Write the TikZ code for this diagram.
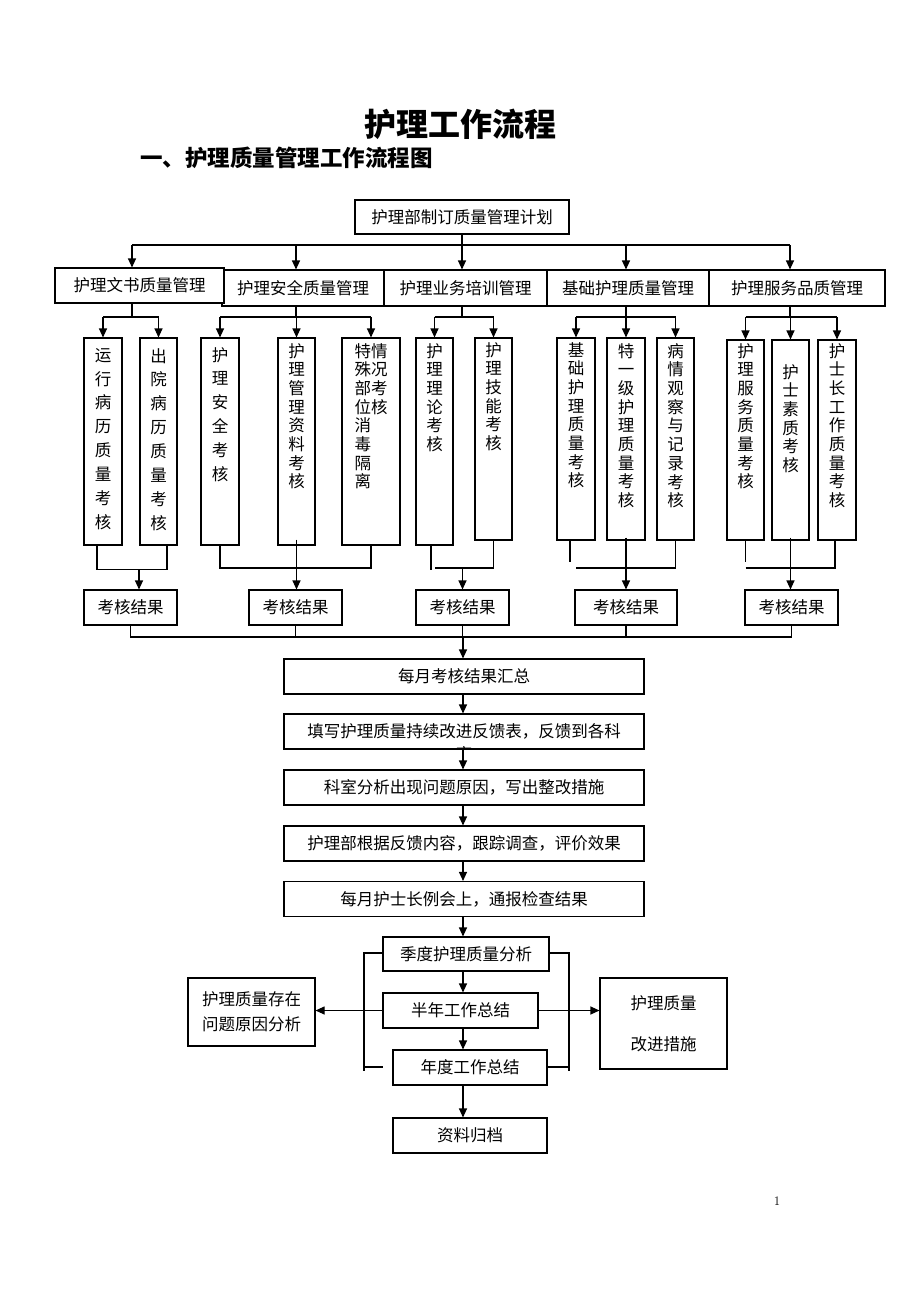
\documentclass[tikz,border=0pt]{standalone}
\usepackage{fontspec}
\newfontfamily\cjk{Noto Sans CJK SC}
\usetikzlibrary{arrows.meta,calc}
\begin{document}
\begin{tikzpicture}[x=1pt,y=-1pt,
  every node/.style={font=\cjk\fontsize{16.5}{18.7}\selectfont, inner sep=0pt},
  box/.style={draw, line width=1.1pt, minimum height=35pt},
  vt/.style={anchor=north, align=center, font=\cjk\fontsize{16.5}{18.7}\selectfont},
  vtw/.style={anchor=north, align=center, font=\cjk\fontsize{16.5}{23.9}\selectfont},
  ln/.style={line width=1.1pt},
  ar/.style={line width=1.1pt,-{Triangle[length=9pt,width=8pt]}}
]
\useasboundingbox (0,0) rectangle (920,1302);

% titles
\node[font=\cjk\bfseries\fontsize{32}{32}\selectfont] (title) at (460,124) {护理工作流程};
\node[anchor=west, font=\cjk\bfseries\fontsize{22.5}{22.5}\selectfont] (sub) at (140,158) {一、护理质量管理工作流程图};

% top box
\node[box, minimum width=214pt, minimum height=34pt] (top) at (462,217) {护理部制订质量管理计划};

% level 2
\node[box, minimum width=162pt, minimum height=36pt] (s2) at (303,288) {护理安全质量管理};
\node[box, minimum width=163pt, minimum height=36pt] (s3) at (465.5,288) {护理业务培训管理};
\node[box, minimum width=162pt, minimum height=36pt] (s4) at (628,288) {基础护理质量管理};
\node[box, minimum width=176pt, minimum height=36pt] (s5) at (797,288) {护理服务品质管理};
\node[box, fill=white, minimum width=169pt, minimum height=35pt] (s1) at (139.5,285.5) {护理文书质量管理};

% top connectors
\coordinate (h1) at (132,245);
\coordinate (h2) at (296,245);
\coordinate (h3) at (462,245);
\coordinate (h4) at (626,245);
\coordinate (h5) at (790,245);
\draw[ln] (h1) -- (h5);
\draw[ar] (top.south) -- (top.south |- s3.north);
\draw[ar] (h1) -- (h1 |- s1.north);
\draw[ar] (h2) -- (h2 |- s2.north);
\draw[ar] (h4) -- (h4 |- s4.north);
\draw[ar] (h5) -- (h5 |- s5.north);

% level 3 boxes
\node[box, minimum width=38pt, minimum height=207pt] (a1) at (103,441.5) {};
\node[box, minimum width=37pt, minimum height=207pt] (a2) at (158.5,441.5) {};
\node[box, minimum width=38pt, minimum height=207pt] (b1) at (220,441.5) {};
\node[box, minimum width=37pt, minimum height=207pt] (b2) at (296.5,441.5) {};
\node[box, minimum width=58pt, minimum height=207pt] (b3) at (371,441.5) {};
\node[box, minimum width=37pt, minimum height=207pt] (c1) at (434.5,441.5) {};
\node[box, minimum width=37pt, minimum height=202pt] (c2) at (493.5,439) {};
\node[box, minimum width=38pt, minimum height=202pt] (d1) at (576,439) {};
\node[box, minimum width=38pt, minimum height=202pt] (d2) at (626,439) {};
\node[box, minimum width=37pt, minimum height=202pt] (d3) at (675.5,439) {};
\node[box, minimum width=37pt, minimum height=200pt] (e1) at (745.5,440) {};
\node[box, minimum width=37pt, minimum height=200pt] (e2) at (790.5,440) {};
\node[box, minimum width=38pt, minimum height=200pt] (e3) at (837,440) {};

% level 3 texts
\node[vtw] (ta1) at (103,348) {运\\行\\病\\历\\质\\量\\考\\核};
\node[vtw] (ta2) at (158.5,348) {出\\院\\病\\历\\质\\量\\考\\核};
\node[vtw] (tb1) at (220,347) {护\\理\\安\\全\\考\\核};
\node[vt] (tb2) at (296.5,343) {护\\理\\管\\理\\资\\料\\考\\核};
\node[anchor=north, align=left] (tb3) at (371,343) {特情\\殊况\\部考\\位核\\消\\毒\\隔\\离};
\node[vt] (tc1) at (434.5,343) {护\\理\\理\\论\\考\\核};
\node[vt] (tc2) at (493.5,342) {护\\理\\技\\能\\考\\核};
\node[vt] (td1) at (576,342) {基\\础\\护\\理\\质\\量\\考\\核};
\node[vt] (td2) at (626,343) {特\\一\\级\\护\\理\\质\\量\\考\\核};
\node[vt] (td3) at (675.5,343) {病\\情\\观\\察\\与\\记\\录\\考\\核};
\node[vt] (te1) at (745.5,343) {护\\理\\服\\务\\质\\量\\考\\核};
\node[vt] (te2) at (790.5,364) {护\\士\\素\\质\\考\\核};
\node[vt] (te3) at (837,343) {护\\士\\长\\工\\作\\质\\量\\考\\核};

% level 2 -> level 3
\coordinate (g1) at (132,317);
\coordinate (g2) at (296,317);
\coordinate (g3) at (462,317);
\coordinate (g4) at (626,317);
\coordinate (g5) at (790,317);
\draw[ln] (g1 |- s1.south) -- (g1);
\draw[ln] (a1.north |- g1) -- (a2.north |- g1);
\draw[ar] (a1.north |- g1) -- (a1.north);
\draw[ar] (a2.north |- g1) -- (a2.north);
\draw[ln] (g2 |- s2.south) -- (g2);
\draw[ln] (b1.north |- g2) -- (b3.north |- g2);
\draw[ar] (b1.north |- g2) -- (b1.north);
\draw[ar] (b2.north |- g2) -- (b2.north);
\draw[ar] (b3.north |- g2) -- (b3.north);
\draw[ln] (g3 |- s3.south) -- (g3);
\draw[ln] (c1.north |- g3) -- (c2.north |- g3);
\draw[ar] (c1.north |- g3) -- (c1.north);
\draw[ar] (c2.north |- g3) -- (c2.north);
\draw[ln] (g4 |- s4.south) -- (g4);
\draw[ln] (d1.north |- g4) -- (d3.north |- g4);
\draw[ar] (d1.north |- g4) -- (d1.north);
\draw[ar] (d2.north |- g4) -- (d2.north);
\draw[ar] (d3.north |- g4) -- (d3.north);
\draw[ln] (g5 |- s5.south) -- (g5);
\draw[ln] (e1.north |- g5) -- (e3.north |- g5);
\draw[ar] (e1.north |- g5) -- (e1.north);
\draw[ar] (e2.north |- g5) -- (e2.north);
\draw[ar] (e3.north |- g5) -- (e3.north);

% result boxes
\node[box, minimum width=93pt] (r1) at (130.5,607.5) {考核结果};
\node[box, minimum width=93pt] (r2) at (295.5,607.5) {考核结果};
\node[box, minimum width=93pt] (r3) at (462.5,607.5) {考核结果};
\node[box, minimum width=102pt] (r4) at (626,607.5) {考核结果};
\node[box, minimum width=93pt] (r5) at (791.5,607.5) {考核结果};

% level 3 -> results
\coordinate (u1) at (139,569);
\draw[ln] ($(a1.south)+(-6,0)$) |- ($(a2.south)+(8.5,24)$) -- ($(a2.south)+(8.5,0)$);
\draw[ar] (u1) -- (u1 |- r1.north);
\coordinate (u2) at (296.5,568);
\draw[ln] (b1.south) |- (b3.south |- u2) -- (b3.south);
\draw[ar] ($(b2.south)+(0,-6)$) -- (b2.south |- r2.north);
\coordinate (u3) at (462.5,568);
\draw[ln] ($(c1.south)+(-3.5,0)$) -- ++(0,24);
\draw[ln] (435,568) -- (c2.south |- u3) -- (c2.south);
\draw[ar] (u3) -- (r3.north);
\coordinate (u4) at (626,568);
\draw[ln] ($(d1.south)+(-6,0)$) -- ++(0,21);
\draw[ln] (d1.south |- u4) -- (d3.south |- u4) -- (d3.south);
\draw[ar] ($(d2.south)+(0,-3)$) -- (d2.south |- r4.north);
\coordinate (u5) at (790.5,568);
\draw[ln] (e1.south) -- ++(0,21);
\draw[ln] (e1.south |- u5) -- ($(e3.south |- u5)+(-2,0)$) -- ($(e3.south)+(-2,0)$);
\draw[ar] ($(e2.south)+(0,-3)$) -- (e2.south |- r5.north);

% main column
\node[box, minimum width=360pt] (m1) at (464,676.5) {每月考核结果汇总};
\node[box, minimum width=360pt] (m2) at (464,731.5) {填写护理质量持续改进反馈表，反馈到各科};
\begin{scope}
\clip (m2.south west) rectangle (m2.north east);
\node (m2b) at ($(m2.center)+(0,22)$) {室};
\end{scope}
\node[box, minimum width=360pt] (m3) at (464,787.5) {科室分析出现问题原因，写出整改措施};
\node[box, minimum width=360pt] (m4) at (464,843.5) {护理部根据反馈内容，跟踪调查，评价效果};
\node[box, minimum width=360pt] (m5) at (464,899) {每月护士长例会上，通报检查结果};

\coordinate (k) at (463,637);
\draw[ln] (r1.south) -- (r1.south |- k) -- (r5.south |- k) -- (r5.south);
\draw[ln] (r2.south) -- (r2.south |- k);
\draw[ln] (r3.south) -- (r3.south |- k);
\draw[ln] (r4.south) -- (r4.south |- k);
\draw[ar] (k) -- (k |- m1.north);
\draw[ar] (k |- m1.south) -- (k |- m2.north);
\draw[ar] (k |- m2.south) -- (k |- m3.north);
\draw[ar] (k |- m3.south) -- (k |- m4.north);
\draw[ar] (k |- m4.south) -- (k |- m5.north);

% bottom section
\node[box, minimum width=166pt, minimum height=34pt] (q1) at (466,954) {季度护理质量分析};
\node[box, minimum width=155pt] (q2) at (460.5,1010.5) {半年工作总结};
\node[box, minimum width=154pt] (q3) at (470,1067.5) {年度工作总结};
\node[box, minimum width=154pt] (q4) at (470,1135.5) {资料归档};
\node[box, minimum width=127pt, minimum height=68pt, align=center, font=\cjk\fontsize{16.5}{25}\selectfont] (L) at (251.5,1012) {护理质量存在\\问题原因分析};
\node[box, minimum width=127pt, minimum height=91pt, align=center, font=\cjk\fontsize{16.5}{41}\selectfont] (R) at (663.5,1023.5) {护理质量\\改进措施};

\draw[ar] (k |- m5.south) -- (k |- q1.north);
\draw[ar] (k |- q1.south) -- (k |- q2.north);
\draw[ar] (k |- q2.south) -- (k |- q3.north);
\draw[ar] (k |- q3.south) -- (k |- q4.north);

\coordinate (bl) at (364,953);
\coordinate (br) at (569,953);
\draw[ln] (q1.west |- bl) -- (bl) -- (364,1071);
\draw[ln] (364,1067) -- (383,1067);
\draw[ln] (q1.east |- br) -- (br) -- (569,1071);
\draw[ln] (569,1067) -- (q3.east |- 0,1067);

\draw[ar] (q2.west) -- (L.east |- q2.west);
\draw[ar] (q2.east) -- (R.west |- q2.east);

\node[font=\rmfamily\fontsize{13}{13}\selectfont] (pg) at (777,1201) {1};
\end{tikzpicture}
\end{document}
